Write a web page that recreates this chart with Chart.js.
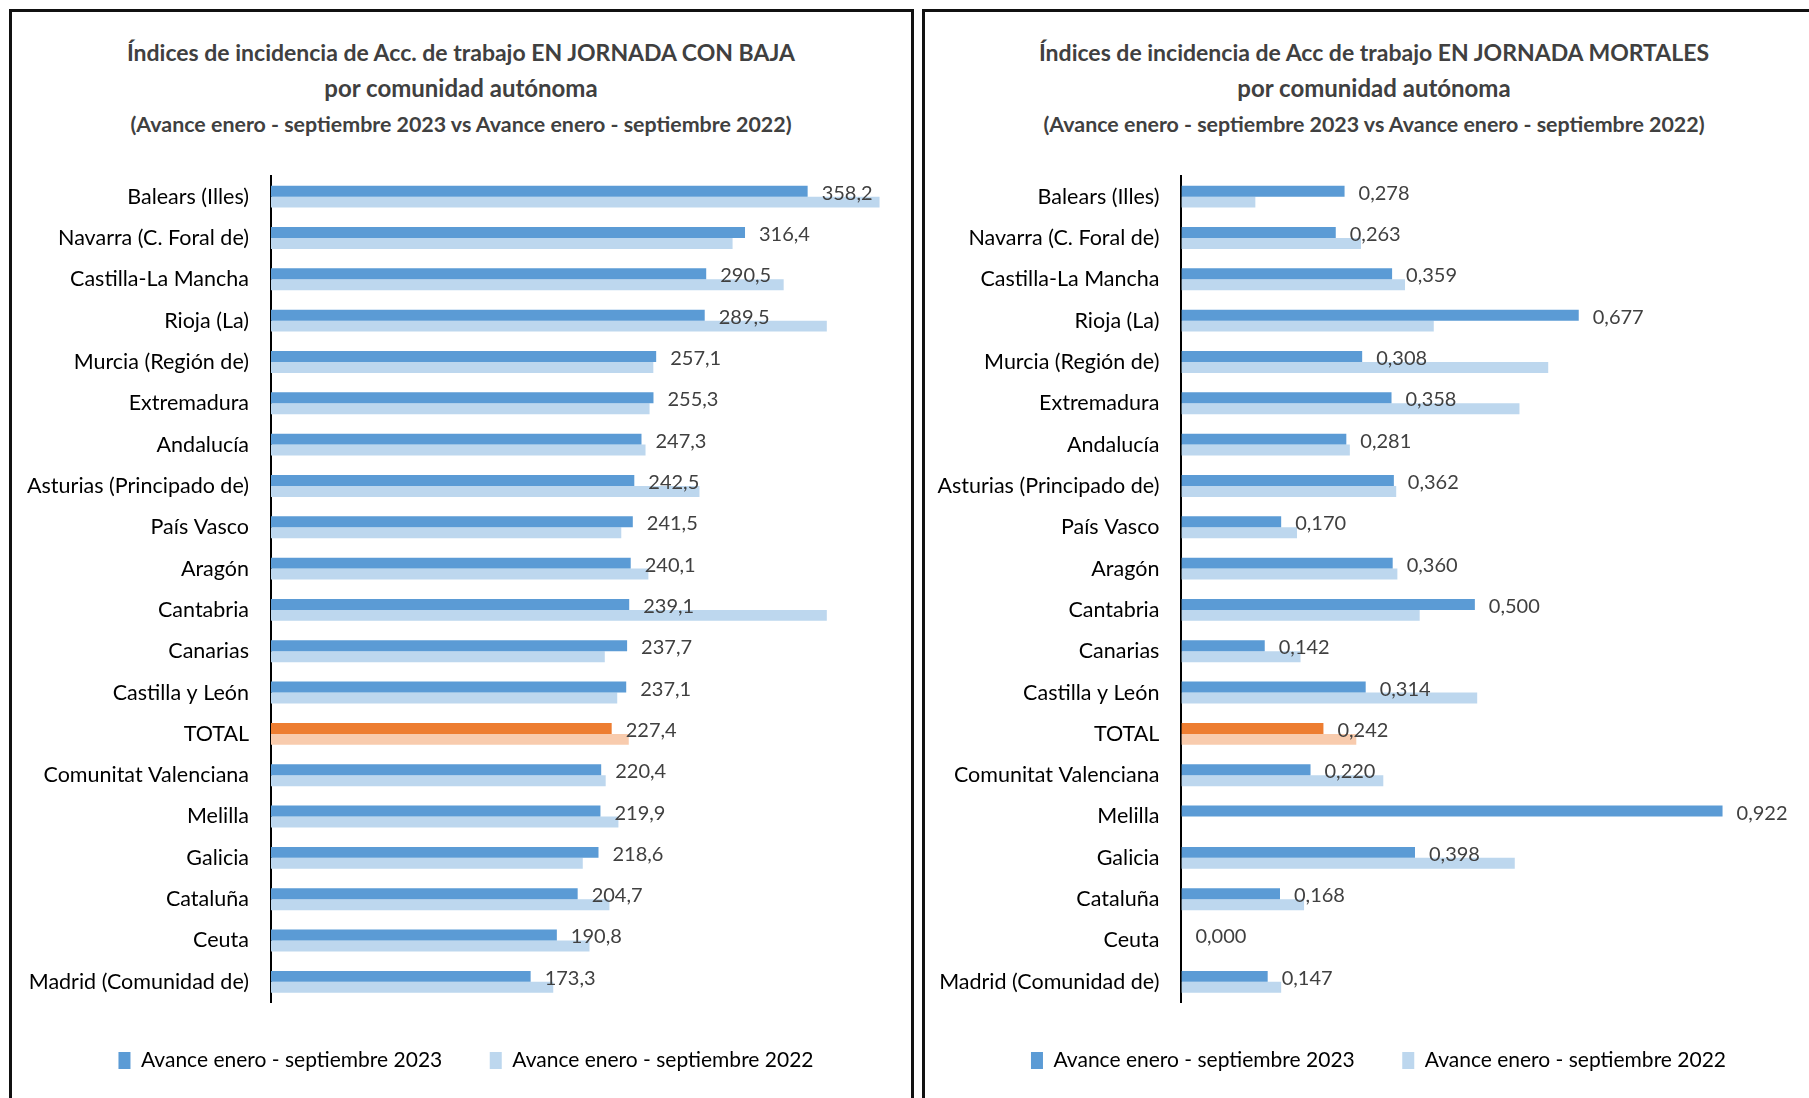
<!DOCTYPE html>
<html>
<head>
<meta charset="utf-8">
<script src="https://cdn.jsdelivr.net/npm/chart.js@4.4.1/dist/chart.umd.min.js"></script>
<style>
  html, body { margin: 0; padding: 0; background: #fff; overflow: hidden; width: 1809px; height: 1098px; }
  .panel { position: absolute; top: 9px; width: 905px; height: 1110px; box-sizing: border-box; border: 3px solid #111; }
  .title { position: absolute; top: 34px; width: 898px; text-align: center; color: #404040; font-family: Lato, sans-serif; font-weight: bold; line-height: 36px; }
  .title .l1 { font-size: 23px; }
  .title .l2 { font-size: 24px; }
  .title .l3 { font-size: 21.4px; }
  canvas { position: absolute; }
</style>
</head>
<body>
<div class="panel" style="left:9px"></div>
<div class="panel" style="left:922px"></div>

<div class="title" style="left:12px">
  <div class="l1">Índices de incidencia de Acc. de trabajo EN JORNADA CON BAJA</div>
  <div class="l2">por comunidad autónoma</div>
  <div class="l3">(Avance enero - septiembre 2023 vs Avance enero - septiembre 2022)</div>
</div>
<div class="title" style="left:925px">
  <div class="l1">Índices de incidencia de Acc de trabajo EN JORNADA MORTALES</div>
  <div class="l2">por comunidad autónoma</div>
  <div class="l3">(Avance enero - septiembre 2023 vs Avance enero - septiembre 2022)</div>
</div>

<canvas id="bajaChart" width="908" height="933" style="left:12px;top:148px"></canvas>
<canvas id="mortalesChart" width="903" height="933" style="left:927px;top:148px"></canvas>

<script>
const regiones = ['Balears (Illes)', 'Navarra (C. Foral de)', 'Castilla-La Mancha', 'Rioja (La)', 'Murcia (Región de)',
  'Extremadura', 'Andalucía', 'Asturias (Principado de)', 'País Vasco', 'Aragón', 'Cantabria', 'Canarias',
  'Castilla y León', 'TOTAL', 'Comunitat Valenciana', 'Melilla', 'Galicia', 'Cataluña', 'Ceuta', 'Madrid (Comunidad de)'];
const serie2023 = 'Avance enero - septiembre 2023';
const serie2022 = 'Avance enero - septiembre 2022';

const baja2023 = [358.2, 316.4, 290.5, 289.5, 257.1, 255.3, 247.3, 242.5, 241.5, 240.1, 239.1, 237.7, 237.1, 227.4, 220.4, 219.9, 218.6, 204.7, 190.8, 173.3];
const baja2022 = [406.2, 308.1, 342.2, 371.0, 255.2, 252.7, 250.0, 286.0, 233.8, 251.9, 371.0, 222.8, 231.1, 238.8, 223.4, 231.9, 208.1, 225.9, 212.6, 188.4];

const mortales2023 = [0.278, 0.263, 0.359, 0.677, 0.308, 0.358, 0.281, 0.362, 0.170, 0.360, 0.500, 0.142, 0.314, 0.242, 0.220, 0.922, 0.398, 0.168, 0.000, 0.147];
const mortales2022 = [0.126, 0.306, 0.381, 0.430, 0.625, 0.576, 0.287, 0.366, 0.197, 0.368, 0.406, 0.203, 0.504, 0.298, 0.344, 0.000, 0.568, 0.209, 0.000, 0.170];

const FONT = 'Lato, sans-serif';
Chart.defaults.font.family = FONT;

// TOTAL row is orange, the rest blue
const colors = (main, total) => regiones.map(r => r === 'TOTAL' ? total : main);

// value labels at the end of the 2023 bars
const valueLabels = {
  id: 'valueLabels',
  afterDatasetsDraw(chart, args, opts) {
    const ctx = chart.ctx;
    const meta = chart.getDatasetMeta(0);
    const data = chart.data.datasets[0].data;
    ctx.save();
    ctx.font = '20px ' + FONT;
    ctx.fillStyle = '#404040';
    ctx.textAlign = 'left';
    ctx.textBaseline = 'middle';
    meta.data.forEach((bar, i) => {
      const txt = data[i].toFixed(opts.decimals).replace('.', ',');
      ctx.fillText(txt, bar.x + 14, bar.y + 2);
    });
    ctx.restore();
  }
};

function makeChart(id, d23, d22, max, decimals, axisWidth) {
  return new Chart(document.getElementById(id), {
    type: 'bar',
    data: {
      labels: regiones,
      datasets: [
        { label: serie2023, data: d23, backgroundColor: colors('#5B9BD5', '#ED7D31'), categoryPercentage: 0.53, barPercentage: 1.0 },
        { label: serie2022, data: d22, backgroundColor: colors('#BDD7EE', '#F8CBAD'), categoryPercentage: 0.53, barPercentage: 1.0 }
      ]
    },
    options: {
      indexAxis: 'y',
      responsive: false,
      animation: false,
      layout: { padding: { top: 28, bottom: 0, left: 0, right: 0 } },
      scales: {
        x: { display: false, min: 0, max: max },
        y: {
          afterFit: s => { s.width = axisWidth; },
          grid: { display: false },
          border: { display: true, color: '#000', width: 2 },
          ticks: { color: '#000', padding: 14, font: { size: 21.5 } }
        }
      },
      plugins: {
        title: { display: false },
        tooltip: { enabled: false },
        valueLabels: { decimals: decimals },
        legend: {
          position: 'bottom',
          labels: {
            color: '#595959', font: { size: 21 }, boxWidth: 12, boxHeight: 17, padding: 47.5,
            generateLabels: chart => chart.data.datasets.map((ds, i) => ({
              text: ds.label, fillStyle: i === 0 ? '#5B9BD5' : '#BDD7EE', strokeStyle: 'rgba(0,0,0,0)', lineWidth: 0, datasetIndex: i
            }))
          }
        }
      }
    },
    plugins: [valueLabels]
  });
}

makeChart('bajaChart', baja2023, baja2022, 433.2, 1, 259);
makeChart('mortalesChart', mortales2023, mortales2022, 1.1051, 3, 254.4);
</script>
</body>
</html>
